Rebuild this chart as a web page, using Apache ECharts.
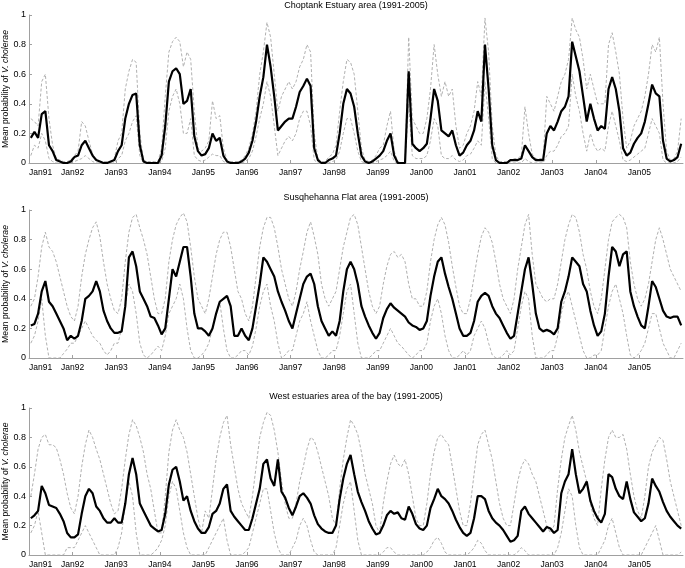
<!DOCTYPE html>
<html><head><meta charset="utf-8">
<script src="https://cdn.jsdelivr.net/npm/echarts@6/dist/echarts.min.js"></script>
<style>html,body{margin:0;padding:0;background:#fff}#c{width:685px;height:568px}</style>
</head><body><div id="c"></div>
<script>
// Monthly values, Jan 1991 .. Dec 2005 (one row per year)
const tickLabels = ['Jan91','Jan92','Jan93','Jan94','Jan95','Jan96','Jan97','Jan98','Jan99','Jan00','Jan01','Jan02','Jan03','Jan04','Jan05'];
const titles = ['Choptank Estuary area (1991-2005)','Susqhehanna Flat area (1991-2005)','West estuaries area of the bay (1991-2005)'];

const chopMean = [
0.17,0.21,0.17,0.33,0.35,0.12,0.08,0.02,0.01,0.00,0.00,0.01,
0.04,0.05,0.12,0.15,0.10,0.05,0.02,0.01,0.00,0.00,0.01,0.02,
0.08,0.12,0.30,0.40,0.46,0.47,0.12,0.01,0.00,0.00,0.00,0.00,
0.05,0.25,0.55,0.62,0.64,0.60,0.40,0.42,0.50,0.18,0.08,0.05,
0.06,0.10,0.20,0.15,0.17,0.05,0.01,0.00,0.00,0.00,0.01,0.03,
0.07,0.15,0.28,0.45,0.58,0.80,0.65,0.45,0.22,0.25,0.28,0.30,
0.30,0.38,0.48,0.52,0.57,0.52,0.10,0.02,0.00,0.00,0.02,0.03,
0.05,0.20,0.40,0.50,0.47,0.38,0.20,0.05,0.01,0.00,0.01,0.03,
0.05,0.08,0.15,0.20,0.05,0.00,0.00,0.00,0.62,0.13,0.10,0.08,
0.10,0.13,0.30,0.50,0.42,0.22,0.20,0.18,0.22,0.12,0.05,0.07,
0.12,0.15,0.22,0.35,0.28,0.80,0.50,0.12,0.02,0.00,0.00,0.00,
0.02,0.02,0.02,0.03,0.12,0.08,0.04,0.02,0.02,0.02,0.20,0.25,
0.22,0.28,0.35,0.38,0.45,0.82,0.72,0.62,0.45,0.28,0.40,0.30,
0.22,0.25,0.23,0.50,0.58,0.50,0.35,0.10,0.05,0.07,0.13,0.17,
0.20,0.28,0.40,0.53,0.47,0.45,0.15,0.03,0.01,0.02,0.04,0.13];
const chopUpper = [
0.30,0.28,0.25,0.55,0.60,0.30,0.12,0.03,0.02,0.01,0.01,0.02,
0.05,0.08,0.28,0.25,0.15,0.06,0.02,0.01,0.01,0.01,0.01,0.03,
0.15,0.20,0.50,0.62,0.70,0.68,0.20,0.02,0.01,0.01,0.01,0.01,
0.10,0.45,0.75,0.82,0.85,0.82,0.65,0.75,0.70,0.35,0.10,0.08,
0.10,0.15,0.42,0.30,0.32,0.10,0.02,0.01,0.01,0.01,0.02,0.05,
0.10,0.20,0.35,0.60,0.75,0.95,0.85,0.60,0.35,0.45,0.50,0.55,
0.50,0.55,0.65,0.70,0.80,0.75,0.20,0.03,0.01,0.01,0.04,0.06,
0.12,0.35,0.55,0.70,0.68,0.60,0.35,0.10,0.02,0.01,0.02,0.05,
0.10,0.12,0.25,0.35,0.08,0.01,0.00,0.00,0.85,0.30,0.25,0.20,
0.20,0.30,0.50,0.80,0.60,0.45,0.55,0.45,0.50,0.25,0.10,0.12,
0.20,0.25,0.35,0.55,0.45,0.98,0.75,0.25,0.05,0.01,0.01,0.01,
0.02,0.03,0.03,0.05,0.38,0.20,0.06,0.03,0.03,0.03,0.45,0.40,
0.35,0.45,0.55,0.60,0.70,0.98,0.90,0.85,0.70,0.50,0.60,0.50,
0.40,0.40,0.40,0.80,0.88,0.75,0.60,0.30,0.10,0.15,0.25,0.30,
0.35,0.45,0.60,0.80,0.75,0.85,0.40,0.08,0.02,0.03,0.08,0.30];
const chopLower = [
0.05,0.12,0.10,0.20,0.15,0.03,0.01,0.00,0.00,0.00,0.00,0.00,
0.01,0.02,0.03,0.05,0.03,0.01,0.00,0.00,0.00,0.00,0.00,0.00,
0.03,0.05,0.15,0.20,0.28,0.32,0.05,0.00,0.00,0.00,0.00,0.00,
0.01,0.10,0.35,0.45,0.50,0.40,0.20,0.20,0.30,0.05,0.02,0.01,
0.02,0.04,0.06,0.05,0.05,0.01,0.00,0.00,0.00,0.00,0.00,0.01,
0.03,0.08,0.18,0.30,0.40,0.55,0.45,0.25,0.05,0.10,0.15,0.18,
0.15,0.20,0.30,0.35,0.35,0.25,0.02,0.00,0.00,0.00,0.00,0.01,
0.02,0.08,0.20,0.30,0.30,0.20,0.08,0.01,0.00,0.00,0.00,0.01,
0.02,0.03,0.05,0.08,0.01,0.00,0.00,0.00,0.40,0.05,0.03,0.03,
0.03,0.05,0.15,0.30,0.25,0.05,0.03,0.03,0.05,0.02,0.01,0.02,
0.05,0.06,0.10,0.15,0.12,0.55,0.30,0.03,0.00,0.00,0.00,0.00,
0.00,0.00,0.00,0.00,0.03,0.01,0.00,0.00,0.00,0.00,0.05,0.08,
0.08,0.12,0.18,0.20,0.25,0.60,0.45,0.35,0.20,0.08,0.20,0.12,
0.08,0.10,0.08,0.25,0.35,0.25,0.15,0.02,0.01,0.02,0.04,0.06,
0.08,0.10,0.20,0.30,0.25,0.20,0.02,0.00,0.00,0.00,0.01,0.04];

const susqMean = [
0.22,0.23,0.30,0.45,0.52,0.38,0.35,0.30,0.25,0.20,0.12,0.15,
0.13,0.15,0.25,0.40,0.42,0.45,0.52,0.45,0.32,0.25,0.20,0.17,
0.17,0.18,0.35,0.68,0.72,0.62,0.45,0.40,0.35,0.28,0.27,0.22,
0.16,0.20,0.40,0.60,0.55,0.65,0.75,0.75,0.55,0.30,0.20,0.20,
0.18,0.15,0.20,0.30,0.38,0.40,0.42,0.35,0.15,0.15,0.20,0.15,
0.12,0.20,0.35,0.50,0.68,0.65,0.60,0.55,0.45,0.38,0.32,0.25,
0.20,0.30,0.40,0.50,0.55,0.57,0.50,0.35,0.25,0.20,0.15,0.18,
0.15,0.25,0.45,0.60,0.65,0.60,0.50,0.35,0.28,0.22,0.17,0.13,
0.17,0.27,0.33,0.37,0.34,0.32,0.30,0.28,0.24,0.22,0.21,0.19,
0.20,0.25,0.42,0.55,0.65,0.68,0.57,0.48,0.40,0.30,0.20,0.15,
0.15,0.17,0.25,0.38,0.42,0.44,0.42,0.35,0.30,0.27,0.22,0.17,
0.13,0.15,0.30,0.45,0.60,0.68,0.50,0.30,0.20,0.18,0.19,0.18,
0.16,0.20,0.38,0.45,0.55,0.68,0.65,0.62,0.50,0.45,0.32,0.22,
0.15,0.18,0.30,0.55,0.75,0.72,0.62,0.70,0.72,0.45,0.35,0.28,
0.22,0.20,0.35,0.52,0.48,0.40,0.32,0.28,0.27,0.28,0.28,0.22];
const susqUpper = [
0.35,0.40,0.55,0.75,0.85,0.75,0.72,0.65,0.55,0.45,0.35,0.28,
0.25,0.35,0.55,0.70,0.80,0.88,0.92,0.82,0.65,0.50,0.40,0.32,
0.30,0.40,0.65,0.85,0.95,0.97,0.88,0.80,0.70,0.55,0.40,0.30,
0.30,0.40,0.65,0.80,0.90,0.95,0.98,0.92,0.75,0.55,0.40,0.35,
0.30,0.40,0.55,0.70,0.80,0.85,0.85,0.75,0.60,0.45,0.40,0.30,
0.25,0.35,0.55,0.75,0.88,0.95,0.95,0.88,0.75,0.60,0.50,0.40,
0.35,0.45,0.60,0.72,0.85,0.92,0.82,0.70,0.50,0.40,0.35,0.40,
0.45,0.60,0.75,0.85,0.95,0.97,0.90,0.75,0.60,0.45,0.35,0.30,
0.35,0.50,0.62,0.70,0.72,0.68,0.70,0.65,0.50,0.40,0.40,0.35,
0.35,0.45,0.65,0.80,0.90,0.95,0.90,0.78,0.62,0.48,0.35,0.30,
0.30,0.40,0.55,0.70,0.82,0.88,0.85,0.78,0.65,0.50,0.40,0.35,
0.30,0.40,0.60,0.75,0.90,0.97,0.70,0.50,0.45,0.40,0.38,0.40,
0.40,0.50,0.65,0.80,0.90,0.97,0.95,0.85,0.70,0.60,0.45,0.35,
0.30,0.40,0.60,0.80,0.92,0.95,0.97,0.95,0.88,0.65,0.50,0.40,
0.35,0.40,0.50,0.65,0.80,0.88,0.80,0.70,0.60,0.55,0.50,0.45];
const susqLower = [
0.10,0.15,0.25,0.40,0.15,0.00,0.00,0.00,0.00,0.03,0.06,0.10,
0.10,0.15,0.20,0.25,0.20,0.15,0.12,0.10,0.05,0.02,0.05,0.10,
0.10,0.20,0.35,0.50,0.45,0.30,0.10,0.02,0.00,0.02,0.05,0.08,
0.05,0.15,0.30,0.35,0.40,0.50,0.40,0.20,0.05,0.00,0.00,0.02,
0.05,0.10,0.20,0.30,0.38,0.20,0.05,0.00,0.00,0.02,0.05,0.05,
0.02,0.08,0.20,0.35,0.45,0.50,0.35,0.25,0.10,0.00,0.02,0.05,
0.05,0.15,0.25,0.30,0.38,0.25,0.15,0.05,0.00,0.00,0.02,0.05,
0.05,0.15,0.30,0.45,0.50,0.30,0.10,0.00,0.00,0.00,0.02,0.05,
0.05,0.10,0.15,0.20,0.15,0.10,0.08,0.05,0.02,0.00,0.02,0.05,
0.05,0.10,0.25,0.35,0.40,0.30,0.15,0.05,0.00,0.00,0.02,0.05,
0.02,0.05,0.15,0.20,0.25,0.20,0.10,0.02,0.00,0.00,0.02,0.05,
0.02,0.05,0.20,0.35,0.45,0.40,0.15,0.00,0.00,0.00,0.02,0.05,
0.05,0.15,0.30,0.40,0.45,0.35,0.25,0.15,0.05,0.00,0.00,0.02,
0.02,0.05,0.20,0.35,0.45,0.50,0.40,0.30,0.15,0.02,0.00,0.02,
0.05,0.10,0.20,0.30,0.30,0.20,0.10,0.05,0.00,0.00,0.05,0.10];

const westMean = [
0.25,0.27,0.30,0.47,0.42,0.34,0.33,0.32,0.28,0.23,0.15,0.12,
0.12,0.14,0.28,0.40,0.45,0.42,0.33,0.30,0.25,0.22,0.22,0.25,
0.22,0.22,0.35,0.55,0.66,0.55,0.35,0.30,0.25,0.20,0.18,0.16,
0.17,0.28,0.48,0.58,0.60,0.50,0.37,0.40,0.30,0.23,0.18,0.15,
0.15,0.19,0.28,0.30,0.35,0.45,0.48,0.30,0.26,0.23,0.20,0.17,
0.17,0.25,0.35,0.45,0.62,0.65,0.52,0.47,0.65,0.43,0.39,0.32,
0.27,0.33,0.40,0.42,0.39,0.35,0.27,0.21,0.18,0.16,0.15,0.15,
0.20,0.38,0.52,0.62,0.68,0.55,0.43,0.36,0.30,0.23,0.18,0.14,
0.15,0.20,0.27,0.30,0.28,0.29,0.25,0.24,0.33,0.28,0.21,0.18,
0.17,0.20,0.32,0.38,0.45,0.40,0.38,0.35,0.30,0.24,0.19,0.15,
0.13,0.15,0.25,0.40,0.40,0.38,0.30,0.25,0.22,0.20,0.17,0.13,
0.09,0.10,0.13,0.30,0.33,0.28,0.25,0.22,0.19,0.16,0.19,0.18,
0.15,0.17,0.42,0.50,0.55,0.72,0.55,0.42,0.45,0.50,0.37,0.30,
0.25,0.22,0.28,0.55,0.53,0.45,0.40,0.38,0.50,0.38,0.29,0.26,
0.23,0.25,0.35,0.52,0.47,0.43,0.36,0.30,0.26,0.23,0.20,0.18];
const westUpper = [
0.40,0.55,0.72,0.80,0.82,0.75,0.75,0.73,0.65,0.55,0.42,0.32,
0.28,0.40,0.60,0.75,0.85,0.80,0.72,0.65,0.55,0.45,0.35,0.28,
0.30,0.45,0.65,0.82,0.92,0.88,0.80,0.70,0.55,0.45,0.30,0.15,
0.15,0.40,0.70,0.85,0.92,0.85,0.80,0.70,0.55,0.40,0.25,0.15,
0.30,0.25,0.45,0.65,0.80,0.90,0.95,0.75,0.60,0.45,0.35,0.30,
0.25,0.40,0.60,0.80,0.90,0.97,0.95,0.85,0.70,0.50,0.35,0.25,
0.25,0.35,0.50,0.60,0.72,0.80,0.78,0.70,0.60,0.50,0.40,0.25,
0.20,0.45,0.65,0.80,0.92,0.88,0.82,0.70,0.55,0.45,0.35,0.20,
0.15,0.35,0.50,0.62,0.68,0.62,0.60,0.65,0.55,0.40,0.25,0.20,
0.20,0.35,0.55,0.70,0.80,0.82,0.78,0.75,0.60,0.45,0.30,0.20,
0.20,0.35,0.55,0.75,0.82,0.85,0.75,0.65,0.50,0.35,0.25,0.20,
0.20,0.35,0.50,0.60,0.65,0.62,0.55,0.50,0.40,0.30,0.20,0.15,
0.20,0.45,0.65,0.80,0.88,0.95,0.85,0.70,0.60,0.50,0.35,0.25,
0.20,0.45,0.65,0.80,0.85,0.80,0.80,0.82,0.72,0.55,0.40,0.30,
0.25,0.40,0.60,0.70,0.75,0.80,0.78,0.65,0.50,0.40,0.30,0.20];
const westLower = [
0.15,0.20,0.30,0.15,0.00,0.00,0.00,0.00,0.00,0.00,0.05,0.05,
0.05,0.10,0.15,0.20,0.15,0.10,0.05,0.00,0.00,0.00,0.00,0.00,
0.05,0.15,0.35,0.50,0.40,0.15,0.00,0.00,0.00,0.00,0.02,0.05,
0.10,0.20,0.40,0.50,0.45,0.30,0.15,0.05,0.00,0.00,0.00,0.00,
0.00,0.05,0.10,0.15,0.20,0.25,0.10,0.00,0.00,0.00,0.00,0.02,
0.05,0.15,0.25,0.35,0.45,0.45,0.30,0.15,0.05,0.00,0.00,0.00,
0.05,0.10,0.20,0.25,0.20,0.10,0.02,0.00,0.00,0.00,0.00,0.00,
0.05,0.20,0.35,0.45,0.50,0.30,0.10,0.00,0.00,0.00,0.00,0.00,
0.00,0.02,0.05,0.05,0.02,0.00,0.00,0.00,0.00,0.00,0.00,0.00,
0.00,0.02,0.05,0.10,0.12,0.08,0.02,0.00,0.00,0.00,0.00,0.00,
0.00,0.02,0.05,0.10,0.08,0.03,0.00,0.00,0.00,0.00,0.00,0.00,
0.00,0.00,0.02,0.05,0.03,0.00,0.00,0.00,0.00,0.00,0.00,0.00,
0.00,0.05,0.15,0.30,0.45,0.40,0.20,0.05,0.00,0.00,0.00,0.00,
0.00,0.05,0.10,0.20,0.25,0.15,0.05,0.00,0.00,0.00,0.00,0.00,
0.00,0.05,0.10,0.15,0.20,0.10,0.00,0.00,0.00,0.00,0.00,0.02];

const panels = [
  {mean: chopMean, upper: chopUpper, lower: chopLower},
  {mean: susqMean, upper: susqUpper, lower: susqLower},
  {mean: westMean, upper: westUpper, lower: westLower}
];

const FONT = '"Liberation Sans", Arial, Helvetica, sans-serif';
const gridTops = [15, 210, 408];
const gridHeights = [148, 148, 147];
const titleY = [6, 198, 397];
const axisColor = '#a0a0a0';

const toPts = arr => arr.map((v, i) => [i + 0.5, v]);

const grids = [], xAxes = [], yAxes = [], series = [], graphics = [];
panels.forEach((p, k) => {
  grids.push({left: 29, right: 2, top: gridTops[k], height: gridHeights[k],
    containLabel: false, outerBoundsMode: 'none'});
  xAxes.push({
    type: 'value', gridIndex: k, min: 0, max: 180, interval: 12,
    axisLine: {show: true, lineStyle: {color: axisColor, width: 1}},
    axisTick: {show: true, inside: true, length: 3, lineStyle: {color: axisColor}},
    axisLabel: {
      fontSize: 8.5, color: '#000', fontFamily: FONT, margin: 5,
      alignMinLabel: 'left', showMaxLabel: false, hideOverlap: false,
      formatter: v => tickLabels[Math.round(v / 12)] || ''
    },
    splitLine: {show: false}
  });
  yAxes.push({
    type: 'value', gridIndex: k, min: 0, max: 1, interval: 0.2,
    axisLine: {show: true, lineStyle: {color: axisColor, width: 1}},
    axisTick: {show: true, inside: true, length: 3, lineStyle: {color: axisColor}},
    axisLabel: {fontSize: 9, color: '#000', fontFamily: FONT, margin: 3},
    splitLine: {show: false},
    name: 'Mean probability of {i|V. cholerae}',
    nameLocation: 'middle', nameGap: 19, nameMoveOverlap: false,
    nameTextStyle: {fontSize: 8.6, color: '#000', fontFamily: FONT,
      rich: {i: {fontStyle: 'italic', fontSize: 8.6, color: '#000', fontFamily: FONT}}}
  });
  [p.lower, p.upper].forEach(arr => series.push({
    type: 'line', xAxisIndex: k, yAxisIndex: k, data: toPts(arr),
    showSymbol: false, symbol: 'none', silent: true,
    lineStyle: {color: '#b0b0b0', width: 1, type: [3, 2]}
  }));
  series.push({
    type: 'line', xAxisIndex: k, yAxisIndex: k, data: toPts(p.mean),
    showSymbol: false, symbol: 'none', silent: true,
    lineStyle: {color: '#000', width: 2.2}
  });
  graphics.push({
    type: 'text', x: 356, y: titleY[k],
    style: {text: titles[k], font: '9px ' + FONT, fill: '#000', textAlign: 'center', textVerticalAlign: 'middle'}
  });
});

const chart = echarts.init(document.getElementById('c'), null, {renderer: 'canvas'});
chart.setOption({
  animation: false,
  backgroundColor: '#fff',
  textStyle: {fontFamily: FONT},
  grid: grids, xAxis: xAxes, yAxis: yAxes, series: series,
  graphic: graphics
});
</script></body></html>
